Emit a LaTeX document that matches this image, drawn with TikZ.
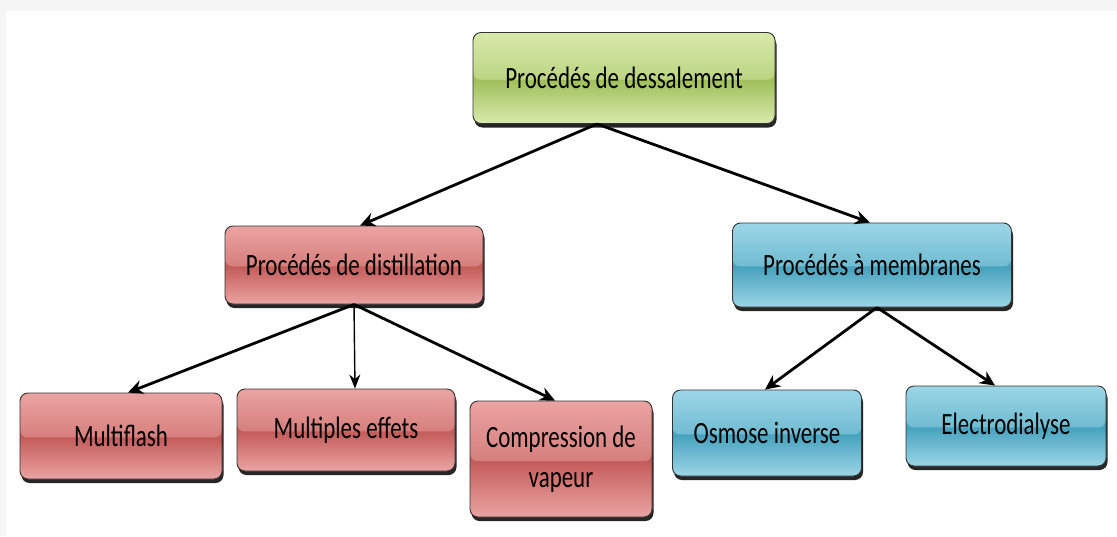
\documentclass[tikz,border=0pt]{standalone}
\usepackage{fontspec}
\setmainfont{Carlito}[FakeStretch=0.74]
\usetikzlibrary{positioning, arrows.meta, shadows, calc}
\definecolor{greenL}{RGB}{216, 234, 172}
\definecolor{greenD}{RGB}{160, 192, 90}
\definecolor{redL}{RGB}{234, 164, 162}
\definecolor{redD}{RGB}{196, 92, 90}
\definecolor{blueL}{RGB}{156, 214, 230}
\definecolor{blueD}{RGB}{70, 162, 190}
\tikzset{
    box/.style={draw=black!80, line width=0.9pt, rounded corners=8pt, align=center, inner sep=0pt,
        font=\fontsize{31}{40}\selectfont,
        drop shadow={shadow xshift=1.5pt, shadow yshift=-4pt, fill=black!85, opacity=1}},
    gloss/.style 2 args={fill=#2, path picture={
        \shade[top color=#1, bottom color=#2] (path picture bounding box.north west) rectangle ($(path picture bounding box.north east)!0.52!(path picture bounding box.south east)$);
        \shade[top color=#2, bottom color=#1] ($(path picture bounding box.north west)!0.52!(path picture bounding box.south west)$) rectangle (path picture bounding box.south east);}},
    greenbox/.style={box, gloss={greenL}{greenD}},
    redbox/.style={box, gloss={redL}{redD}},
    bluebox/.style={box, gloss={blueL}{blueD}},
    link/.style={-{Stealth[length=15pt, width=14pt]}, line width=2.8pt},
    thinlink/.style={-{Stealth[length=14pt, width=11pt]}, line width=1.4pt},
}
\begin{document}
\begin{tikzpicture}[x=1pt, y=-1pt]
    \useasboundingbox (0,0) rectangle (1117,536);
    \fill[gray!8] (0,0) rectangle (1117,536);
    \fill[white] (6,11) rectangle (1117,536);

    \node[greenbox, minimum width=302pt, minimum height=91pt] (desal) at (624,78) {Procédés de dessalement};
    \node[redbox, minimum width=258pt, minimum height=78pt] (distil) at (354,265) {Procédés de distillation};
    \node[bluebox, minimum width=279pt, minimum height=84pt] (membr) at (872,265) {Procédés à membranes};

    \node[redbox, minimum width=202pt, minimum height=86pt] (flash) at (121,436) {Multiflash};
    \node[redbox, minimum width=218pt, minimum height=82pt] (effets) at (346,430) {Multiples effets};
    \node[redbox, minimum width=182pt, minimum height=116pt] (compr) at (561,459) {Compression de\\vapeur};
    \node[bluebox, minimum width=189pt, minimum height=86pt] (osmose) at (767,433) {Osmose inverse};
    \node[bluebox, minimum width=200pt, minimum height=80pt] (electro) at (1006,426) {Electrodialyse};

    % liens
    \draw[link] ([xshift=-27pt]desal.south) -- ([xshift=6pt]distil.north);
    \draw[link] ([xshift=-27pt]desal.south) -- ([xshift=-2pt]membr.north);
    \draw[link] (distil.south) -- ([xshift=7pt]flash.north);
    \draw[thinlink] (distil.south) -- ([xshift=9pt]effets.north);
    \draw[link] (distil.south) -- ([xshift=-6pt]compr.north);
    \draw[link] ([xshift=5pt]membr.south) -- ([xshift=-2pt]osmose.north);
    \draw[link] ([xshift=5pt]membr.south) -- ([xshift=-11pt]electro.north);
\end{tikzpicture}
\end{document}
